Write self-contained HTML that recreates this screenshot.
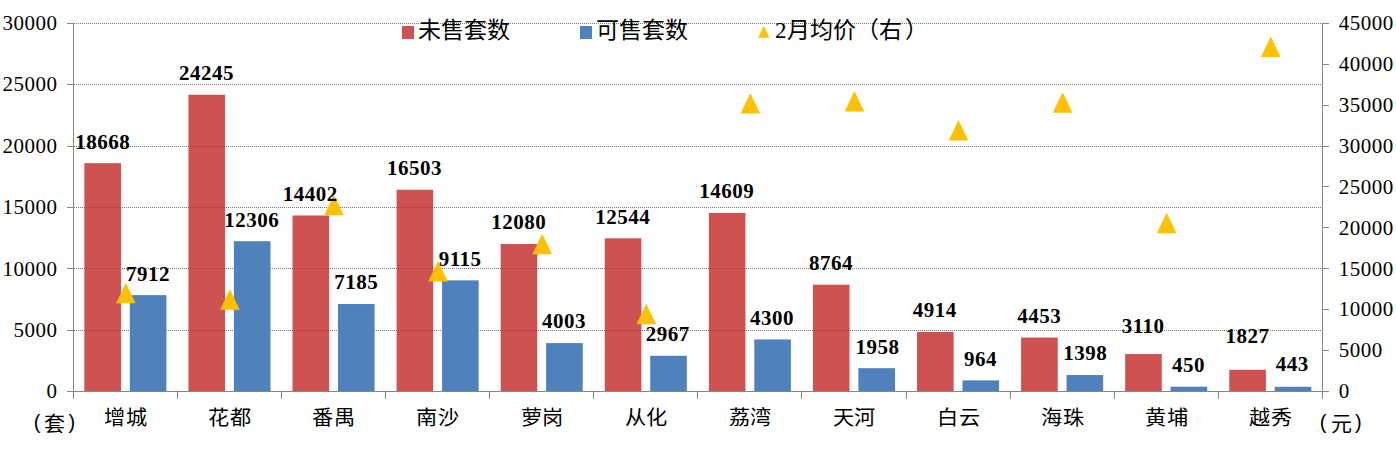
<!DOCTYPE html>
<html lang="zh-CN"><head><meta charset="utf-8"><style>
html,body{margin:0;padding:0;background:#fff;width:1396px;height:452px;overflow:hidden;position:relative}
.g{position:absolute;left:74px;width:1248px;height:1px;background:repeating-linear-gradient(90deg,#7a7a7a 0 1px,transparent 1px 2px)}
svg{position:absolute;left:0;top:0}
text{font-family:"Liberation Serif",serif;fill:#000}
.d{font-size:21px;font-weight:bold;text-anchor:middle;letter-spacing:0.5px}
.a{font-size:21px;letter-spacing:0.5px}
.c{font-family:"Liberation Sans",sans-serif;font-size:20px;text-anchor:middle}
.l{font-family:"Liberation Sans",sans-serif;font-size:23px}
.p{font-family:"Liberation Sans",sans-serif;font-size:20px;text-anchor:middle;font-weight:normal}
.t{font-family:"Liberation Sans",sans-serif;font-size:21px;text-anchor:middle}
.ls{font-family:"Liberation Serif",serif}
</style></head><body>
<div class="g" style="top:330px"></div><div class="g" style="top:268px"></div><div class="g" style="top:207px"></div><div class="g" style="top:146px"></div><div class="g" style="top:84px"></div><div class="g" style="top:23px"></div>
<svg width="1396" height="452" viewBox="0 0 1396 452">
<rect x="84.35" y="163.14" width="36.6" height="228.26" fill="#CE5252"/>
<rect x="129.80" y="295.12" width="36.6" height="96.28" fill="#4F81BD"/>
<rect x="188.43" y="94.71" width="36.6" height="296.69" fill="#CE5252"/>
<rect x="233.88" y="241.21" width="36.6" height="150.19" fill="#4F81BD"/>
<rect x="292.52" y="215.49" width="36.6" height="175.91" fill="#CE5252"/>
<rect x="337.97" y="304.04" width="36.6" height="87.36" fill="#4F81BD"/>
<rect x="396.60" y="189.71" width="36.6" height="201.69" fill="#CE5252"/>
<rect x="442.05" y="280.36" width="36.6" height="111.04" fill="#4F81BD"/>
<rect x="500.68" y="243.98" width="36.6" height="147.42" fill="#CE5252"/>
<rect x="546.13" y="343.08" width="36.6" height="48.32" fill="#4F81BD"/>
<rect x="604.77" y="238.29" width="36.6" height="153.11" fill="#CE5252"/>
<rect x="650.22" y="355.79" width="36.6" height="35.61" fill="#4F81BD"/>
<rect x="708.85" y="212.95" width="36.6" height="178.45" fill="#CE5252"/>
<rect x="754.30" y="339.44" width="36.6" height="51.96" fill="#4F81BD"/>
<rect x="812.93" y="284.67" width="36.6" height="106.73" fill="#CE5252"/>
<rect x="858.38" y="368.18" width="36.6" height="23.22" fill="#4F81BD"/>
<rect x="917.02" y="331.91" width="36.6" height="59.49" fill="#CE5252"/>
<rect x="962.47" y="380.37" width="36.6" height="11.03" fill="#4F81BD"/>
<rect x="1021.10" y="337.56" width="36.6" height="53.84" fill="#CE5252"/>
<rect x="1066.55" y="375.05" width="36.6" height="16.35" fill="#4F81BD"/>
<rect x="1125.18" y="354.04" width="36.6" height="37.36" fill="#CE5252"/>
<rect x="1170.63" y="386.68" width="36.6" height="4.72" fill="#4F81BD"/>
<rect x="1229.27" y="369.78" width="36.6" height="21.62" fill="#CE5252"/>
<rect x="1274.72" y="386.76" width="36.6" height="4.64" fill="#4F81BD"/>
<defs><pattern id="dp" width="2" height="1" patternUnits="userSpaceOnUse"><rect width="1" height="1" fill="rgba(110,20,20,0.35)"/></pattern></defs>
<rect x="85" y="330" width="35" height="1" fill="url(#dp)"/>
<rect x="85" y="268" width="35" height="1" fill="url(#dp)"/>
<rect x="85" y="207" width="35" height="1" fill="url(#dp)"/>
<rect x="189" y="330" width="36" height="1" fill="url(#dp)"/>
<rect x="189" y="268" width="36" height="1" fill="url(#dp)"/>
<rect x="189" y="207" width="36" height="1" fill="url(#dp)"/>
<rect x="189" y="146" width="36" height="1" fill="url(#dp)"/>
<rect x="293" y="330" width="36" height="1" fill="url(#dp)"/>
<rect x="293" y="268" width="36" height="1" fill="url(#dp)"/>
<rect x="397" y="330" width="36" height="1" fill="url(#dp)"/>
<rect x="397" y="268" width="36" height="1" fill="url(#dp)"/>
<rect x="397" y="207" width="36" height="1" fill="url(#dp)"/>
<rect x="501" y="330" width="36" height="1" fill="url(#dp)"/>
<rect x="501" y="268" width="36" height="1" fill="url(#dp)"/>
<rect x="605" y="330" width="36" height="1" fill="url(#dp)"/>
<rect x="605" y="268" width="36" height="1" fill="url(#dp)"/>
<rect x="709" y="330" width="36" height="1" fill="url(#dp)"/>
<rect x="709" y="268" width="36" height="1" fill="url(#dp)"/>
<rect x="813" y="330" width="36" height="1" fill="url(#dp)"/>
<path d="M73.5 23V399 M67 23.5H73 M1322.5 23V399 M1323 23.5H1329" stroke="#868686" stroke-width="1" fill="none" shape-rendering="crispEdges"/>
<path d="M67 391.5H73 M67 330.5H73 M67 268.5H73 M67 207.5H73 M67 146.5H73 M67 84.5H73 M67 23.5H73 M1323 391.5H1329 M1323 350.5H1329 M1323 309.5H1329 M1323 268.5H1329 M1323 227.5H1329 M1323 186.5H1329 M1323 146.5H1329 M1323 105.5H1329 M1323 64.5H1329 M1323 23.5H1329 M73.5 391V399 M177.5 391V399 M281.5 391V399 M385.5 391V399 M489.5 391V399 M593.5 391V399 M697.5 391V399 M801.5 391V399 M906.5 391V399 M1010.5 391V399 M1114.5 391V399 M1218.5 391V399 M1322.5 391V399 M73 391.5H1323" stroke="#868686" stroke-width="1" fill="none" shape-rendering="crispEdges"/>
<path d="M125.84 282.90L135.64 303.30L116.04 303.30Z" fill="#FFC000"/>
<path d="M229.93 289.30L239.73 309.70L220.12 309.70Z" fill="#FFC000"/>
<path d="M334.01 194.80L343.81 215.20L324.21 215.20Z" fill="#FFC000"/>
<path d="M438.09 261.10L447.89 281.50L428.29 281.50Z" fill="#FFC000"/>
<path d="M542.17 233.80L551.97 254.20L532.38 254.20Z" fill="#FFC000"/>
<path d="M646.26 303.80L656.06 324.20L636.46 324.20Z" fill="#FFC000"/>
<path d="M750.34 93.00L760.14 113.40L740.54 113.40Z" fill="#FFC000"/>
<path d="M854.42 91.10L864.22 111.50L844.62 111.50Z" fill="#FFC000"/>
<path d="M958.51 120.10L968.31 140.50L948.71 140.50Z" fill="#FFC000"/>
<path d="M1062.59 92.30L1072.39 112.70L1052.79 112.70Z" fill="#FFC000"/>
<path d="M1166.68 212.80L1176.48 233.20L1156.88 233.20Z" fill="#FFC000"/>
<path d="M1270.76 36.60L1280.56 57.00L1260.96 57.00Z" fill="#FFC000"/>
<text class="d" transform="translate(102.85 148.6)">18668</text>
<text class="d" transform="translate(206.50 79.9)">24245</text>
<text class="d" transform="translate(310.30 200.8)">14402</text>
<text class="d" transform="translate(414.55 174.9)">16503</text>
<text class="d" transform="translate(518.75 228.9)">12080</text>
<text class="d" transform="translate(622.70 223.9)">12544</text>
<text class="d" transform="translate(726.67 198.1)">14609</text>
<text class="d" transform="translate(830.90 269.5)">8764</text>
<text class="d" transform="translate(934.85 317.2)">4914</text>
<text class="d" transform="translate(1039.20 323.0)">4453</text>
<text class="d" transform="translate(1143.10 332.9)">3110</text>
<text class="d" transform="translate(1247.45 342.6)">1827</text>
<text class="d" transform="translate(147.90 281.1)">7912</text>
<text class="d" transform="translate(251.75 227.1)">12306</text>
<text class="d" transform="translate(356.25 289.0)">7185</text>
<text class="d" transform="translate(460.05 265.9)">9115</text>
<text class="d" transform="translate(564.05 327.7)">4003</text>
<text class="d" transform="translate(667.80 340.8)">2967</text>
<text class="d" transform="translate(772.05 324.6)">4300</text>
<text class="d" transform="translate(877.55 354.1)">1958</text>
<text class="d" transform="translate(980.40 365.8)">964</text>
<text class="d" transform="translate(1085.15 360.1)">1398</text>
<text class="d" transform="translate(1188.50 371.7)">450</text>
<text class="d" transform="translate(1292.25 371.3)">443</text>
<text class="a" transform="translate(57.5 398.2)" text-anchor="end">0</text>
<text class="a" transform="translate(57.5 336.8)" text-anchor="end">5000</text>
<text class="a" transform="translate(57.5 275.5)" text-anchor="end">10000</text>
<text class="a" transform="translate(57.5 214.2)" text-anchor="end">15000</text>
<text class="a" transform="translate(57.5 152.8)" text-anchor="end">20000</text>
<text class="a" transform="translate(57.5 91.4)" text-anchor="end">25000</text>
<text class="a" transform="translate(57.5 30.1)" text-anchor="end">30000</text>
<text class="a" transform="translate(1338.8 398.2)">0</text>
<text class="a" transform="translate(1338.8 357.3)">5000</text>
<text class="a" transform="translate(1338.8 316.4)">10000</text>
<text class="a" transform="translate(1338.8 275.5)">15000</text>
<text class="a" transform="translate(1338.8 234.6)">20000</text>
<text class="a" transform="translate(1338.8 193.7)">25000</text>
<text class="a" transform="translate(1338.8 152.8)">30000</text>
<text class="a" transform="translate(1338.8 111.9)">35000</text>
<text class="a" transform="translate(1338.8 71.0)">40000</text>
<text class="a" transform="translate(1338.8 30.1)">45000</text>
<text class="c" transform="translate(125.84 425) scale(1.06 1)">增城</text>
<text class="c" transform="translate(229.93 425) scale(1.06 1)">花都</text>
<text class="c" transform="translate(334.01 425) scale(1.06 1)">番禺</text>
<text class="c" transform="translate(438.09 425) scale(1.06 1)">南沙</text>
<text class="c" transform="translate(542.17 425) scale(1.06 1)">萝岗</text>
<text class="c" transform="translate(646.26 425) scale(1.06 1)">从化</text>
<text class="c" transform="translate(750.34 425) scale(1.06 1)">荔湾</text>
<text class="c" transform="translate(854.42 425) scale(1.06 1)">天河</text>
<text class="c" transform="translate(958.51 425) scale(1.06 1)">白云</text>
<text class="c" transform="translate(1062.59 425) scale(1.06 1)">海珠</text>
<text class="c" transform="translate(1166.68 425) scale(1.06 1)">黄埔</text>
<text class="c" transform="translate(1270.76 425) scale(1.06 1)">越秀</text>
<text class="p" x="37" y="428.6">(</text><text class="t" x="54.6" y="431">套</text><text class="p" x="71.8" y="428.6">)</text>
<text class="p" x="1323" y="428.6">(</text><text class="t" x="1341" y="431">元</text><text class="p" x="1358.3" y="428.6">)</text>
<rect x="402" y="26" width="12" height="13" fill="#CE5252"/>
<text class="l" x="418" y="38">未售套数</text>
<rect x="580" y="26" width="12" height="13" fill="#4F81BD"/>
<text class="l" x="596" y="38">可售套数</text>
<path d="M763.8 26L769.5 37.7L758.1 37.7Z" fill="#FFC000"/>
<text class="l" x="775" y="38"><tspan class="ls">2</tspan>月均价（右<tspan dx="3">）</tspan></text>
</svg>
</body></html>
